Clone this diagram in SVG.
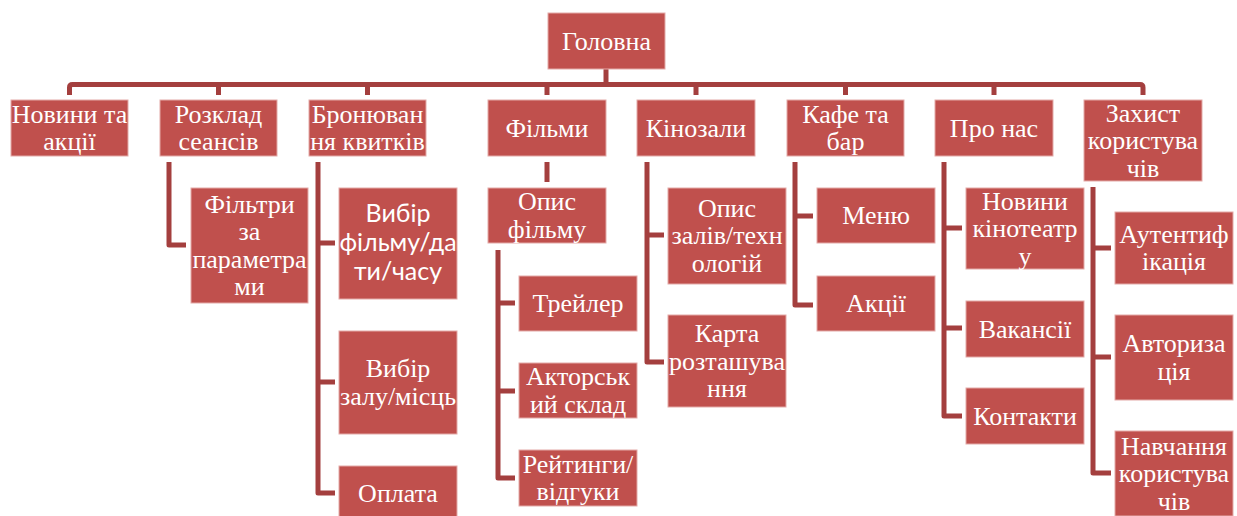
<svg xmlns="http://www.w3.org/2000/svg" width="1237" height="516" viewBox="0 0 1237 516">
<style>
.box{fill:#C0504D;stroke:#E3AAA8;stroke-width:1}
.t{font-family:"Liberation Serif","Times New Roman",serif;font-size:26px;fill:#FFFFFF;text-anchor:middle}
.s{font-family:Lato,"Liberation Sans",sans-serif;font-size:25px;fill:#FFFFFF;text-anchor:middle}
.c{fill:none;stroke:#A43F3E;stroke-width:5;stroke-linejoin:round}
</style>
<rect width="1237" height="516" fill="#FFFFFF"/>
<g id="connectors">
<path class="c" d="M606,69 V84.5"/>
<path class="c" d="M69.5,95 V87.5 Q69.5,84.5 72.5,84.5 H1140 Q1143,84.5 1143,87.5 V95"/>
<path class="c" d="M218.5,84.5 V95 M367.5,84.5 V95 M547,84.5 V95 M696,84.5 V95 M845.5,84.5 V95 M994,84.5 V95"/>
<path class="c" d="M169,162 V245 H186"/>
<path class="c" d="M318,162 V493 H335 M318,243 H335 M318,382 H335"/>
<path class="c" d="M547,162 V182"/>
<path class="c" d="M498,250 V478 H515 M498,303 H515 M498,391 H515"/>
<path class="c" d="M647,162 V362 H664 M647,235 H664"/>
<path class="c" d="M795,162 V305 H813 M795,216 H813"/>
<path class="c" d="M944,162 V416 H962 M944,228 H962 M944,328 H962"/>
<path class="c" d="M1093,187 V473 H1111 M1093,248 H1111 M1093,357 H1111"/>
</g>
<g id="n-golovna"><rect class="box" x="548" y="13" width="117" height="56"/><text class="t" x="606.5" y="49.5">Головна</text></g>
<g id="n-novyny"><rect class="box" x="11" y="100" width="117" height="56"/><text class="t" x="69.5" y="122.75">Новини та</text><text class="t" x="69.5" y="150.25">акції</text></g>
<g id="n-rozklad"><rect class="box" x="160" y="100" width="117" height="56"/><text class="t" x="218.5" y="122.75">Розклад</text><text class="t" x="218.5" y="150.25">сеансів</text></g>
<g id="n-bron"><rect class="box" x="309" y="100" width="117" height="56"/><text class="t" x="367.5" y="122.75">Бронюван</text><text class="t" x="367.5" y="150.25">ня квитків</text></g>
<g id="n-filmy"><rect class="box" x="488" y="100" width="118" height="56"/><text class="t" x="547" y="136.5">Фільми</text></g>
<g id="n-kinozaly"><rect class="box" x="637" y="100" width="118" height="56"/><text class="t" x="696" y="136.5">Кінозали</text></g>
<g id="n-kafe"><rect class="box" x="787" y="100" width="117" height="56"/><text class="t" x="845.5" y="122.75">Кафе та</text><text class="t" x="845.5" y="150.25">бар</text></g>
<g id="n-pronas"><rect class="box" x="935" y="100" width="118" height="56"/><text class="t" x="994" y="136.5">Про нас</text></g>
<g id="n-zakhyst"><rect class="box" x="1084" y="100" width="118" height="81"/><text class="t" x="1143" y="121.5">Захист</text><text class="t" x="1143" y="149">користува</text><text class="t" x="1143" y="176.5">чів</text></g>
<g id="n-filtry"><rect class="box" x="191" y="188" width="117" height="115"/><text class="t" x="249.5" y="212.75">Фільтри</text><text class="t" x="249.5" y="240.25">за</text><text class="t" x="249.5" y="267.75">параметра</text><text class="t" x="249.5" y="295.25">ми</text></g>
<g id="n-vybir-film"><rect class="box" x="339" y="188" width="118" height="111"/><text class="s" x="398" y="222">Вибір</text><text class="s" x="398" y="251">фільму/да</text><text class="s" x="398" y="280">ти/часу</text></g>
<g id="n-vybir-zal"><rect class="box" x="339" y="331" width="118" height="103"/><text class="t" x="398" y="377.25">Вибір</text><text class="t" x="398" y="404.75">залу/місць</text></g>
<g id="n-oplata"><rect class="box" x="339" y="466" width="118" height="54"/><text class="t" x="398" y="501.5">Оплата</text></g>
<g id="n-opys-film"><rect class="box" x="488" y="188" width="118" height="55"/><text class="t" x="547" y="210.25">Опис</text><text class="t" x="547" y="237.75">фільму</text></g>
<g id="n-treiler"><rect class="box" x="519" y="276" width="118" height="55"/><text class="t" x="578" y="312">Трейлер</text></g>
<g id="n-aktory"><rect class="box" x="519" y="363" width="118" height="55"/><text class="t" x="578" y="385.25">Акторськ</text><text class="t" x="578" y="412.75">ий склад</text></g>
<g id="n-reitynhy"><rect class="box" x="519" y="450" width="118" height="56"/><text class="t" x="578" y="472.75">Рейтинги/</text><text class="t" x="578" y="500.25">відгуки</text></g>
<g id="n-opys-zal"><rect class="box" x="668" y="188" width="118" height="96"/><text class="t" x="727" y="216.5">Опис</text><text class="t" x="727" y="244">залів/техн</text><text class="t" x="727" y="271.5">ологій</text></g>
<g id="n-karta"><rect class="box" x="668" y="315" width="118" height="92"/><text class="t" x="727" y="342">Карта</text><text class="t" x="727" y="369.5">розташува</text><text class="t" x="727" y="397">ння</text></g>
<g id="n-menu"><rect class="box" x="817" y="188" width="118" height="55"/><text class="t" x="876" y="224">Меню</text></g>
<g id="n-aktsii"><rect class="box" x="817" y="276" width="118" height="55"/><text class="t" x="876" y="312">Акції</text></g>
<g id="n-novyny-kino"><rect class="box" x="966" y="188" width="118" height="81"/><text class="t" x="1025" y="209.5">Новини</text><text class="t" x="1025" y="237">кінотеатр</text><text class="t" x="1025" y="264.5">у</text></g>
<g id="n-vakansii"><rect class="box" x="966" y="301" width="118" height="56"/><text class="t" x="1025" y="337.5">Вакансії</text></g>
<g id="n-kontakty"><rect class="box" x="966" y="388" width="118" height="56"/><text class="t" x="1025" y="424.5">Контакти</text></g>
<g id="n-autent"><rect class="box" x="1115" y="212" width="118" height="72"/><text class="t" x="1174" y="242.75">Аутентиф</text><text class="t" x="1174" y="270.25">ікація</text></g>
<g id="n-avtoryz"><rect class="box" x="1115" y="315" width="118" height="85"/><text class="t" x="1174" y="352.25">Авториза</text><text class="t" x="1174" y="379.75">ція</text></g>
<g id="n-navch"><rect class="box" x="1115" y="431" width="118" height="85"/><text class="t" x="1174" y="454.5">Навчання</text><text class="t" x="1174" y="482">користува</text><text class="t" x="1174" y="509.5">чів</text></g>
</svg>
